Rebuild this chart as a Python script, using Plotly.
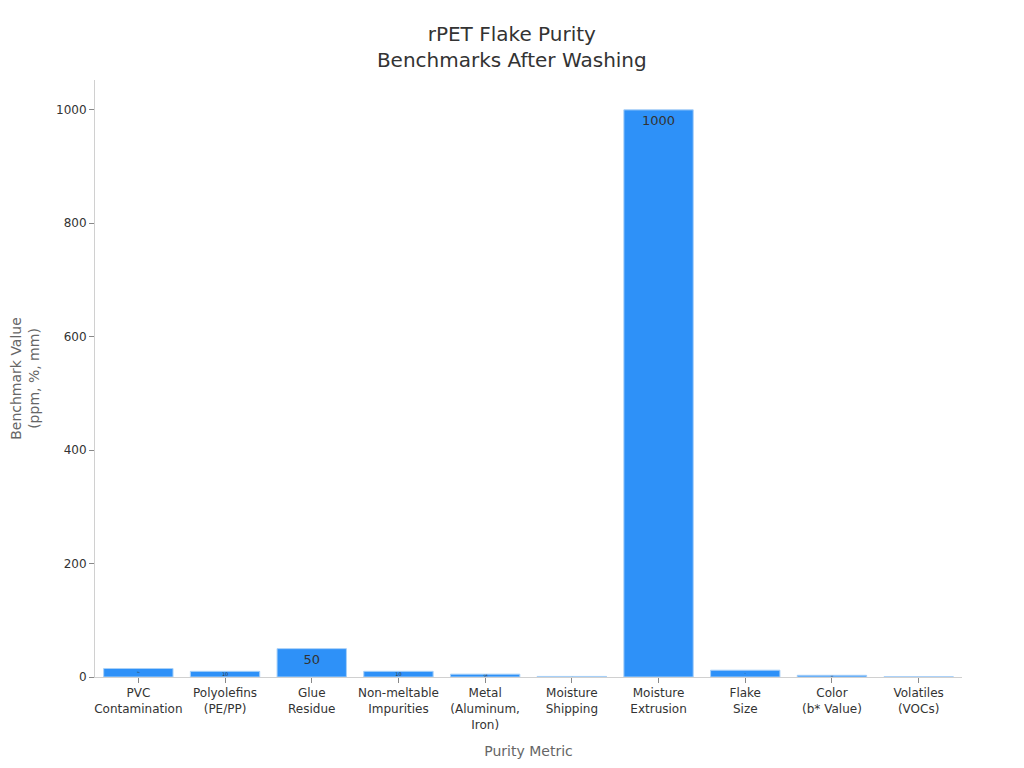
import plotly.graph_objects as go

metrics = ["PVC<br>Contamination", "Polyolefins<br>(PE/PP)", "Glue<br>Residue",
           "Non-meltable<br>Impurities", "Metal<br>(Aluminum,<br>Iron)", "Moisture<br>Shipping",
           "Moisture<br>Extrusion", "Flake<br>Size", "Color<br>(b* Value)", "Volatiles<br>(VOCs)"]
benchmarks = [15, 10, 50, 10, 5, 1, 1000, 12, 3, 0.5]

fig = go.Figure(go.Bar(
    x=metrics, y=benchmarks,
    text=benchmarks, textposition="inside",
    marker=dict(color="#2E91F8", line=dict(color="#A8D0F8", width=1)),
    textfont=dict(color="#333333", size=13),
))

fig.update_layout(
    template="simple_white",
    width=1024, height=768,
    font=dict(family="DejaVu Sans", size=12, color="#333333"),
    title=dict(text="rPET Flake Purity<br>Benchmarks After Washing", x=0.492, xanchor="center",
               y=0.957, font=dict(size=20, color="#333333")),
    margin=dict(l=87, r=70, t=72, b=99),
    showlegend=False,
    bargap=0.2,
)
fig.update_xaxes(title=dict(text="Purity Metric", font=dict(size=14, color="#666666")),
                 linecolor="#d0d0d0", ticks="outside", tickcolor="#888888")
fig.update_yaxes(title=dict(text="Benchmark Value<br>(ppm, %, mm)", font=dict(size=14, color="#666666"),
                            standoff=15),
                 automargin=False,
                 linecolor="#d0d0d0", ticks="outside", tickcolor="#888888")

fig.write_html("out.html")
